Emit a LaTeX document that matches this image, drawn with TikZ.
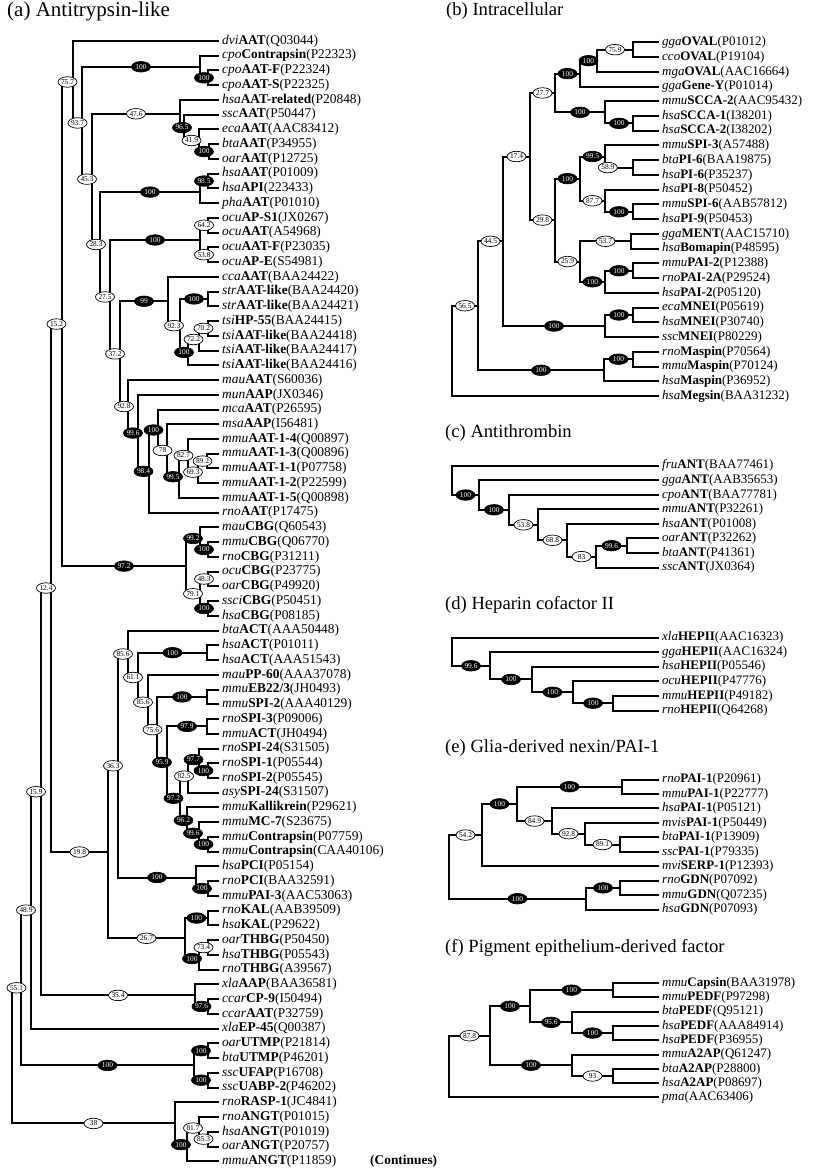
\documentclass[tikz,border=0pt]{standalone}
\usepackage{fontspec}
\setmainfont{Liberation Serif}
\usetikzlibrary{calc,shapes.geometric}

% species code, protein, accession
\newcommand{\taxon}[3]{\textit{#1}\textbf{#2}(#3)}
% clade: name, x, upper child, label, lower child, label
\newcommand{\clade}[6]{%
  \path let \p1=(#3), \p2=(#5) in (#2pt,{(\y1+\y2)/2}) coordinate (#1);
  \draw[br] (#1) |- #4 (#3) (#1) |- #6 (#5);}

\begin{document}
\begin{tikzpicture}[
  x=1pt, y=-1pt, font=\fontsize{13.4}{14}\selectfont,
  br/.style={line width=2pt},
  leaf/.style={anchor=west, inner xsep=3pt, inner ysep=0pt, text height=9.5pt,
               text depth=3pt},
  rleaf/.style={leaf, font=\fontsize{13}{14}\selectfont},
  wo/.style={ellipse, draw, line width=0.7pt, fill=white, inner sep=0pt,
             minimum width=19pt, minimum height=10.5pt, pos=.75,
             font=\fontsize{7.4}{7.4}\selectfont},
  bo/.style={wo, fill=black, text=white},
  ttl/.style={anchor=west, inner sep=0pt, font=\fontsize{18.6}{20}\selectfont},
]
\useasboundingbox (0,0) rectangle (814,1169);
\fill[white] (0,0) rectangle (814,1169);

\node[ttl, font=\fontsize{21}{22}\selectfont] (ta) at (7,11) {(a) Antitrypsin-like};
\node[ttl] (tb) at (446,11) {(b) Intracellular};
\node[ttl] (tc) at (445,433) {(c) Antithrombin};
\node[ttl] (td) at (445,605) {(d) Heparin cofactor II};
\node[ttl] (te) at (445,748) {(e) Glia-derived nexin/PAI-1};
\node[ttl] (tf) at (445,948) {(f) Pigment epithelium-derived factor};
\node[anchor=west, inner sep=0pt, font=\fontsize{13.4}{14}\selectfont\bfseries]
  (more) at (370,1161) {(Continues)};

% (a) leaves
\foreach \pre/\nam/\acc [count=\i] in {dvi/AAT/Q03044, cpo/Contrapsin/P22323,
  cpo/AAT-F/P22324, cpo/AAT-S/P22325, hsa/AAT-related/P20848, ssc/AAT/P50447,
  eca/AAT/AAC83412, bta/AAT/P34955, oar/AAT/P12725, hsa/AAT/P01009,
  hsa/API/223433, pha/AAT/P01010, ocu/AP-S1/JX0267, ocu/AAT/A54968,
  ocu/AAT-F/P23035, ocu/AP-E/S54981, cca/AAT/BAA24422, str/AAT-like/BAA24420,
  str/AAT-like/BAA24421, tsi/HP-55/BAA24415, tsi/AAT-like/BAA24418,
  tsi/AAT-like/BAA24417, tsi/AAT-like/BAA24416, mau/AAT/S60036, mun/AAP/JX0346,
  mca/AAT/P26595, msa/AAP/I56481, mmu/AAT-1-4/Q00897, mmu/AAT-1-3/Q00896,
  mmu/AAT-1-1/P07758, mmu/AAT-1-2/P22599, mmu/AAT-1-5/Q00898, rno/AAT/P17475,
  mau/CBG/Q60543, mmu/CBG/Q06770, rno/CBG/P31211, ocu/CBG/P23775,
  oar/CBG/P49920, ssci/CBG/P50451, hsa/CBG/P08185, bta/ACT/AAA50448,
  hsa/ACT/P01011, hsa/ACT/AAA51543, mau/PP-60/AAA37078, mmu/{EB22/3}/JH0493,
  mmu/SPI-2/AAA40129, rno/SPI-3/P09006, mmu/ACT/JH0494, rno/SPI-24/S31505,
  rno/SPI-1/P05544, rno/SPI-2/P05545, asy/SPI-24/S31507,
  mmu/Kallikrein/P29621, mmu/MC-7/S23675, mmu/Contrapsin/P07759,
  mmu/Contrapsin/CAA40106, hsa/PCI/P05154, rno/PCI/BAA32591,
  mmu/PAI-3/AAC53063, rno/KAL/AAB39509, hsa/KAL/P29622, oar/THBG/P50450,
  hsa/THBG/P05543, rno/THBG/A39567, xla/AAP/BAA36581, ccar/CP-9/I50494,
  ccar/AAT/P32759, xla/EP-45/Q00387, oar/UTMP/P21814, bta/UTMP/P46201,
  ssc/UFAP/P16708, ssc/UABP-2/P46202, rno/RASP-1/JC4841, rno/ANGT/P01015,
  hsa/ANGT/P01019, oar/ANGT/P20757, mmu/ANGT/P11859}
  \node[leaf] (a\i) at (219,{41+14.74*(\i-1)}) {\taxon{\pre}{\nam}{\acc}};

\clade{cpoaat}{208}{a3}{}{a4}{}
\clade{cpo}{200}{a2}{}{cpoaat}{node[bo]{100}}
\clade{btaoar}{209}{a8}{}{a9}{}
\clade{eca}{199}{a7}{}{btaoar}{node[bo]{100}}
\clade{ssc}{184}{a6}{}{eca}{node[wo]{41.9}}
\clade{hsarel}{180}{a5}{}{ssc}{node[bo]{96.5}}
\clade{hsaaat}{208}{a10}{}{a11}{}
\clade{pha}{200}{hsaaat}{node[bo]{98.5}}{a12}{}
\clade{ocua}{208}{a13}{}{a14}{}
\clade{ocub}{208}{a15}{}{a16}{}
\clade{ocu}{200}{ocua}{node[wo]{64.2}}{ocub}{node[wo]{53.8}}
\clade{str}{208}{a18}{}{a19}{}
\clade{tsia}{208}{a20}{}{a21}{}
\clade{tsib}{199}{tsia}{node[wo]{70.2}}{a22}{}
\clade{tsi}{188}{tsib}{node[wo]{72.2}}{a23}{}
\clade{strtsi}{180}{str}{node[bo]{100}}{tsi}{node[bo]{100}}
\clade{cca}{168}{a17}{}{strtsi}{node[wo]{92.3}}
\clade{mmua}{207}{a29}{}{a30}{}
\clade{mmub}{198}{mmua}{node[wo]{89.2}}{a31}{}
\clade{mmuc}{188}{a28}{}{mmub}{node[wo]{69.3}}
\clade{mmu}{179}{mmuc}{node[wo]{82.7}}{a32}{}
\clade{msa}{167}{a27}{}{mmu}{node[bo]{99.5}}
\clade{mca}{158}{a26}{}{msa}{node[wo]{78}}
\clade{rnoaat}{149}{mca}{node[bo]{100}}{a33}{}
\clade{mun}{138}{a25}{}{rnoaat}{node[bo]{98.4}}
\clade{mau}{128}{a24}{}{mun}{node[bo]{99.6}}
\clade{aat}{120}{cca}{node[bo]{99}}{mau}{node[wo]{92.8}}
\clade{aatb}{110}{ocu}{node[bo]{100}}{aat}{node[wo]{37.2}}
\clade{aatc}{100}{pha}{node[bo]{100}}{aatb}{node[wo]{27.5}}
\clade{aatd}{92}{hsarel}{node[wo]{47.6}}{aatc}{node[wo]{28.3}}
\clade{aate}{82}{cpo}{node[bo]{100}}{aatd}{node[wo]{45.3}}
\clade{aatf}{73}{a1}{}{aate}{node[wo]{93.7}}
\clade{cbga}{208}{a35}{}{a36}{}
\clade{cbgb}{200}{a34}{}{cbga}{node[bo]{100}}
\clade{cbgc}{208}{a37}{}{a38}{}
\clade{cbgd}{208}{a39}{}{a40}{}
\clade{cbge}{200}{cbgc}{node[wo]{48.3}}{cbgd}{node[bo]{100}}
\clade{cbg}{186}{cbgb}{node[bo]{99.2}}{cbge}{node[wo]{79.1}}
\clade{antitr}{62}{aatf}{node[wo]{75.7}}{cbg}{node[bo]{97.2}}
\clade{act}{207}{a42}{}{a43}{}
\clade{eb}{207}{a45}{}{a46}{}
\clade{spia}{207}{a47}{}{a48}{}
\clade{spib}{208}{a50}{}{a51}{}
\clade{spic}{199}{a49}{}{spib}{node[bo]{100}}
\clade{spid}{188}{spic}{node[bo]{97.7}}{a52}{}
\clade{contr}{208}{a55}{}{a56}{}
\clade{mc}{199}{a54}{}{contr}{node[bo]{100}}
\clade{kall}{187}{a53}{}{mc}{node[bo]{99.6}}
\clade{spie}{180}{spid}{node[wo]{82.5}}{kall}{node[bo]{96.2}}
\clade{spif}{167}{spia}{node[bo]{97.9}}{spie}{node[bo]{97.2}}
\clade{spig}{157}{eb}{node[bo]{100}}{spif}{node[bo]{95.9}}
\clade{pp}{148}{a44}{}{spig}{node[wo]{75.6}}
\clade{acta}{138}{act}{node[bo]{100}}{pp}{node[wo]{85.6}}
\clade{actb}{128}{a41}{}{acta}{node[wo]{61.1}}
\clade{pcia}{208}{a58}{}{a59}{}
\clade{pci}{196}{a57}{}{pcia}{node[bo]{100}}
\clade{actc}{118}{actb}{node[wo]{85.6}}{pci}{node[bo]{100}}
\clade{kal}{208}{a60}{}{a61}{}
\clade{thbga}{208}{a62}{}{a63}{}
\clade{thbg}{199}{thbga}{node[wo]{73.4}}{a64}{}
\clade{kalthbg}{185}{kal}{node[bo]{100}}{thbg}{node[bo]{100}}
\clade{actd}{108}{actc}{node[wo]{36.3}}{kalthbg}{node[wo]{26.7}}
\clade{ga}{51}{antitr}{node[wo]{15.2}}{actd}{node[wo]{19.8}}
\clade{ccar}{208}{a66}{}{a67}{}
\clade{xla}{195}{a65}{}{ccar}{node[bo]{97.6}}
\clade{gb}{41}{ga}{node[wo]{12.4}}{xla}{node[wo]{35.4}}
\clade{gc}{31}{gb}{node[wo]{15.9}}{a68}{}
\clade{utmpa}{208}{a69}{}{a70}{}
\clade{utmpb}{208}{a71}{}{a72}{}
\clade{utmp}{194}{utmpa}{node[bo]{100}}{utmpb}{node[bo]{100}}
\clade{gd}{21}{gc}{node[wo]{48.9}}{utmp}{node[bo]{100}}
\clade{angta}{208}{a75}{}{a76}{}
\clade{angtb}{199}{a74}{}{angta}{node[wo]{85.3}}
\clade{angtc}{187}{angtb}{node[wo]{81.7}}{a77}{}
\clade{angt}{175}{a73}{}{angtc}{node[bo]{100}}
\clade{aroot}{12}{gd}{node[wo]{55.1}}{angt}{node[wo]{38}}

% (b) leaves
\foreach \pre/\nam/\acc [count=\i] in {gga/OVAL/P01012, cco/OVAL/P19104,
  mga/OVAL/AAC16664, gga/Gene-Y/P01014, mmu/SCCA-2/AAC95432,
  hsa/SCCA-1/I38201, hsa/SCCA-2/I38202, mmu/SPI-3/A57488, bta/PI-6/BAA19875,
  hsa/PI-6/P35237, hsa/PI-8/P50452, mmu/SPI-6/AAB57812, hsa/PI-9/P50453,
  gga/MENT/AAC15710, hsa/Bomapin/P48595, mmu/PAI-2/P12388,
  rno/PAI-2A/P29524, hsa/PAI-2/P05120, eca/MNEI/P05619, hsa/MNEI/P30740,
  ssc/MNEI/P80229, rno/Maspin/P70564, mmu/Maspin/P70124,
  hsa/Maspin/P36952, hsa/Megsin/BAA31232}
  \node[rleaf] (b\i) at (659,{42.3+14.74*(\i-1)}) {\taxon{\pre}{\nam}{\acc}};

\clade{bova}{633}{b1}{}{b2}{}
\clade{bovb}{597}{bova}{node[wo]{75.9}}{b3}{}
\clade{bovc}{580}{bovb}{node[bo]{100}}{b4}{}
\clade{bscca}{633}{b6}{}{b7}{}
\clade{bsccb}{605}{b5}{}{bscca}{node[bo]{100}}
\clade{bova2}{555}{bovc}{node[bo]{100}}{bsccb}{node[bo]{100}}
\clade{bpia}{633}{b9}{}{b10}{}
\clade{bpib}{605}{b8}{}{bpia}{node[wo,pos=.55]{58.9}}
\clade{bpic}{633}{b12}{}{b13}{}
\clade{bpid}{605}{b11}{}{bpic}{node[bo]{100}}
\clade{bpi}{580}{bpib}{node[bo]{99.5}}{bpid}{node[wo]{87.7}}
\clade{bment}{631}{b14}{}{b15}{}
\clade{bpaia}{633}{b16}{}{b17}{}
\clade{bpaib}{605}{bpaia}{node[bo]{100}}{b18}{}
\clade{bpai}{580}{bment}{node[wo]{53.7}}{bpaib}{node[bo]{100}}
\clade{bpi2}{555}{bpi}{node[bo]{100}}{bpai}{node[wo]{25.9}}
\clade{bov3}{530}{bova2}{node[wo]{27.7}}{bpi2}{node[wo]{29.8}}
\clade{bmnea}{633}{b19}{}{b20}{}
\clade{bmne}{605}{bmnea}{node[bo]{100}}{b21}{}
\clade{bov4}{503}{bov3}{node[wo]{17.4}}{bmne}{node[bo]{100}}
\clade{bmasa}{633}{b22}{}{b23}{}
\clade{bmas}{604}{bmasa}{node[bo]{100}}{b24}{}
\clade{bov5}{478}{bov4}{node[wo]{44.5}}{bmas}{node[bo]{100}}
\clade{broot}{452}{bov5}{node[wo]{56.5}}{b25}{}

% (c) leaves
\foreach \pre/\acc [count=\i] in {fru/BAA77461, gga/AAB35653, cpo/BAA77781,
  mmu/P32261, hsa/P01008, oar/P32262, bta/P41361, ssc/JX0364}
  \node[rleaf] (c\i) at (659,{465.7+14.55*(\i-1)}) {\taxon{\pre}{ANT}{\acc}};

\clade{cant}{627}{c6}{}{c7}{}
\clade{canb}{596}{cant}{node[bo]{99.6}}{c8}{}
\clade{canc}{567}{c5}{}{canb}{node[wo]{83}}
\clade{cand}{538}{c4}{}{canc}{node[wo]{68.8}}
\clade{cane}{509}{c3}{}{cand}{node[wo]{53.8}}
\clade{canf}{479}{c2}{}{cane}{node[bo]{100}}
\clade{croot}{452}{c1}{}{canf}{node[bo]{100}}

% (d) leaves
\foreach \pre/\acc [count=\i] in {xla/AAC16323, gga/AAC16324, hsa/P05546,
  ocu/P47776, mmu/P49182, rno/Q64268}
  \node[rleaf] (d\i) at (659,{637.5+14.6*(\i-1)}) {\taxon{\pre}{HEPII}{\acc}};

\clade{dhep}{613}{d5}{}{d6}{}
\clade{dhepb}{573}{d4}{}{dhep}{node[bo]{100}}
\clade{dhepc}{532}{d3}{}{dhepb}{node[bo]{100}}
\clade{dhepd}{490}{d2}{}{dhepc}{node[bo]{100}}
\clade{droot}{452}{d1}{}{dhepd}{node[bo]{99.6}}

% (e) leaves
\foreach \pre/\nam/\acc [count=\i] in {rno/PAI-1/P20961, mmu/PAI-1/P22777,
  hsa/PAI-1/P05121, mvis/PAI-1/P50449, bta/PAI-1/P13909, ssc/PAI-1/P79335,
  mvi/SERP-1/P12393, rno/GDN/P07092, mmu/GDN/Q07235, hsa/GDN/P07093}
  \node[rleaf] (e\i) at (659,{779.5+14.45*(\i-1)}) {\taxon{\pre}{\nam}{\acc}};

\clade{epai}{622}{e1}{}{e2}{}
\clade{epaib}{620}{e5}{}{e6}{}
\clade{epaic}{585}{e4}{}{epaib}{node[wo]{89.1}}
\clade{epaid}{552}{e3}{}{epaic}{node[wo]{92.8}}
\clade{epaie}{517}{epai}{node[bo]{100}}{epaid}{node[wo]{84.9}}
\clade{eserp}{482}{epaie}{node[bo]{100}}{e7}{}
\clade{egdn}{620}{e8}{}{e9}{}
\clade{egdnb}{586}{egdn}{node[bo]{100}}{e10}{}
\clade{eroot}{449}{eserp}{node[wo]{54.2}}{egdnb}{node[bo]{100}}

% (f) leaves
\foreach \pre/\nam/\acc [count=\i] in {mmu/Capsin/BAA31978, mmu/PEDF/P97298,
  bta/PEDF/Q95121, hsa/PEDF/AAA84914, hsa/PEDF/P36955, mmu/A2AP/Q61247,
  bta/A2AP/P28800, hsa/A2AP/P08697, pma//AAC63406}
  \node[rleaf] (f\i) at (659,{983+14.3*(\i-1)}) {\taxon{\pre}{\nam}{\acc}};

\clade{fcap}{613}{f1}{}{f2}{}
\clade{fped}{613}{f4}{}{f5}{}
\clade{fpedb}{572}{f3}{}{fped}{node[bo]{100}}
\clade{fpedc}{530}{fcap}{node[bo]{100}}{fpedb}{node[bo]{95.6}}
\clade{fa2}{613}{f7}{}{f8}{}
\clade{fa2b}{572}{f6}{}{fa2}{node[wo]{93}}
\clade{fpedd}{490}{fpedc}{node[bo]{100}}{fa2b}{node[bo]{100}}
\clade{froot}{449}{fpedd}{node[wo]{87.8}}{f9}{}
\end{tikzpicture}
\end{document}
